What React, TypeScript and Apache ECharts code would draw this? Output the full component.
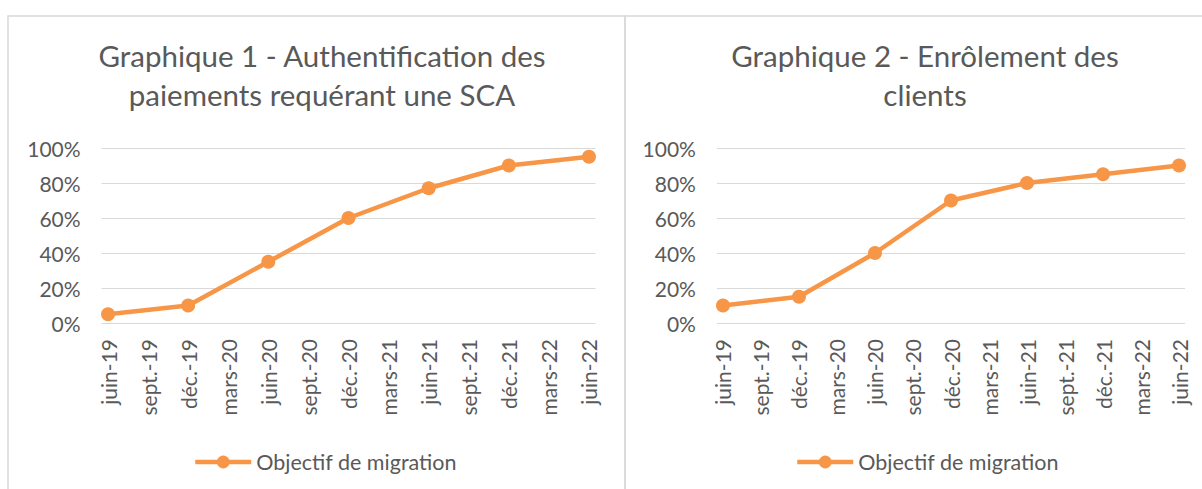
import React, { useEffect, useRef } from "react";
import * as echarts from "echarts";

const categories = [
  "juin-19", "sept.-19", "déc.-19", "mars-20", "juin-20", "sept.-20", "déc.-20",
  "mars-21", "juin-21", "sept.-21", "déc.-21", "mars-22", "juin-22",
];
// indices of categories where points are placed (every 6 months)
const pointIndex = [0, 2, 4, 6, 8, 10, 12];
const chart1Values = [0.05, 0.10, 0.35, 0.60, 0.77, 0.90, 0.95];
const chart2Values = [0.10, 0.15, 0.40, 0.70, 0.80, 0.85, 0.90];
const seriesName = "Objectif de migration";
const title1 = "Graphique 1 - Authentification des\npaiements requérant une SCA";
const title2 = "Graphique 2 - Enrôlement des\nclients";

const FONT = "Lato, 'Liberation Sans', sans-serif";
const TXT = "#595959";
const GRID = "#D9D9D9";
const ORANGE = "#F79646";

export default function App() {
  const ref = useRef<HTMLDivElement>(null);
  useEffect(() => {
    document.body.style.margin = "0";
    if (!ref.current) return;
    const chart = echarts.init(ref.current, undefined, { renderer: "svg" });

    const xAxisDef = (gridIndex: number) => ({
      type: "value" as const,
      gridIndex,
      min: -0.16,
      max: 12.16,
      splitLine: { show: false },
      axisLine: { show: false },
      axisTick: { show: false },
      axisLabel: {
        customValues: categories.map((_, i) => i),
        formatter: (v: number) => categories[Math.round(v)] ?? "",
        rotate: 90,
        margin: 16,
        color: TXT,
        fontSize: 21,
        fontFamily: FONT,
      },
    });
    const yAxisDef = (gridIndex: number) => ({
      type: "value" as const,
      gridIndex,
      min: 0,
      max: 1,
      interval: 0.2,
      axisLine: { show: false },
      axisTick: { show: false },
      splitLine: { lineStyle: { color: GRID, width: 1 } },
      axisLabel: {
        formatter: (v: number) => Math.round(v * 100) + "%",
        margin: 21,
        color: TXT,
        fontSize: 21,
        fontFamily: FONT,
      },
    });
    const seriesDef = (idx: number, values: number[]) => ({
      type: "line" as const,
      name: seriesName,
      xAxisIndex: idx,
      yAxisIndex: idx,
      data: values.map((v, i) => [pointIndex[i], v]),
      symbol: "circle",
      symbolSize: 14,
      lineStyle: { color: ORANGE, width: 4.5 },
      itemStyle: { color: ORANGE },
    });
    const legendDef = (left: number) => ({
      left,
      top: 446,
      itemWidth: 56,
      itemHeight: 16,
      data: [seriesName],
      lineStyle: { width: 4.5, color: ORANGE },
      itemStyle: { color: ORANGE },
      textStyle: { color: TXT, fontSize: 21.5, fontFamily: FONT },
    });

    chart.setOption({
      animation: false,
      backgroundColor: "#ffffff",
      graphic: [
        {
          type: "rect",
          shape: { x: 8, y: 16, width: 617, height: 520 },
          style: { fill: "none", stroke: GRID, lineWidth: 1.5 },
          silent: true,
        },
        {
          type: "rect",
          shape: { x: 625, y: 16, width: 620, height: 520 },
          style: { fill: "none", stroke: GRID, lineWidth: 1.5 },
          silent: true,
        },
      ],
      title: [
        {
          text: title1,
          left: 317,
          top: 31,
          textAlign: "center",
          textStyle: { color: TXT, fontSize: 29.5, fontWeight: "normal", fontFamily: FONT, lineHeight: 39 },
        },
        {
          text: title2,
          left: 920,
          top: 31,
          textAlign: "center",
          textStyle: { color: TXT, fontSize: 29.5, fontWeight: "normal", fontFamily: FONT, lineHeight: 39 },
        },
      ],
      legend: [legendDef(188), legendDef(790)],
      grid: [
        { left: 101.6, top: 148, width: 493.8, height: 175 },
        { left: 716.9, top: 148, width: 468.2, height: 175 },
      ],
      xAxis: [xAxisDef(0), xAxisDef(1)],
      yAxis: [yAxisDef(0), yAxisDef(1)],
      series: [seriesDef(0, chart1Values), seriesDef(1, chart2Values)],
    });
    return () => chart.dispose();
  }, []);
  return <div ref={ref} style={{ width: 1202, height: 489 }} />;
}
